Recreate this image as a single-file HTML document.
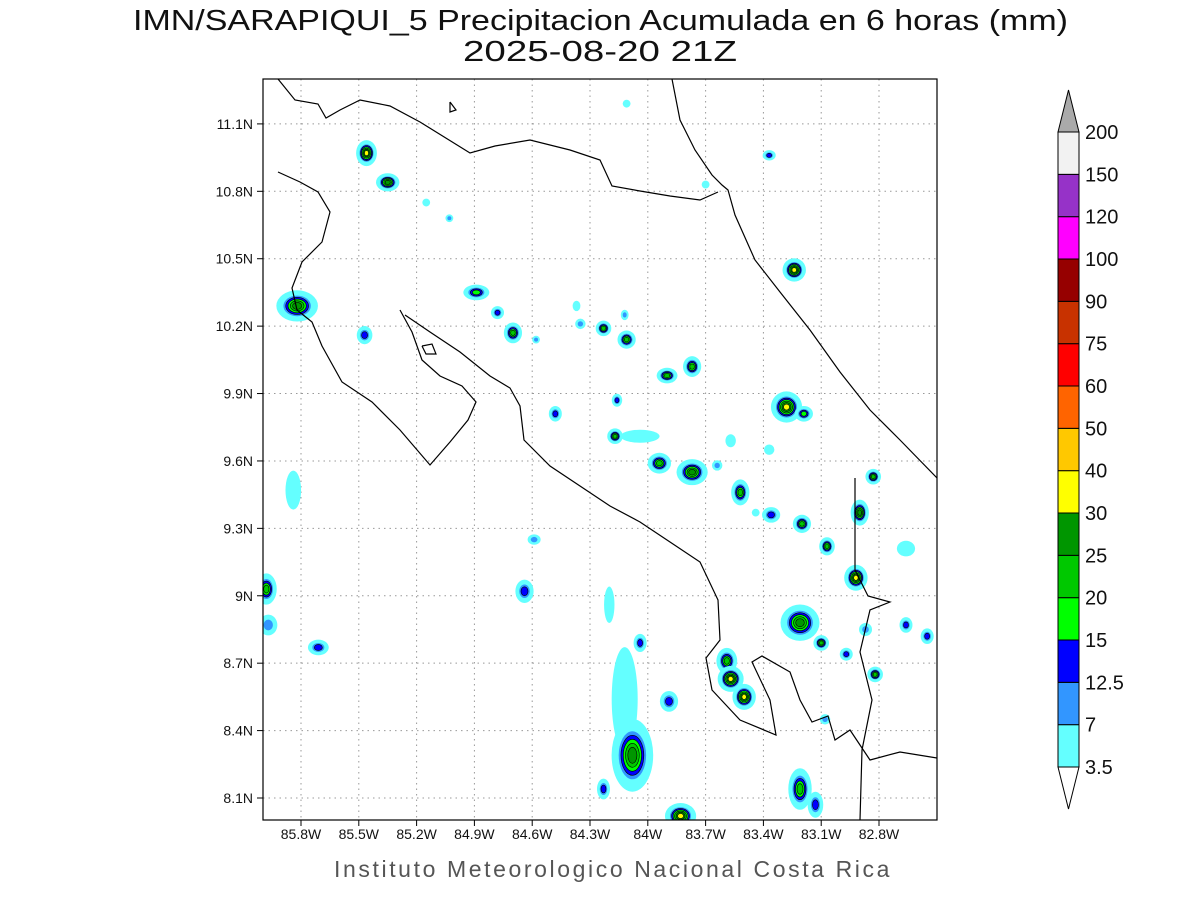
<!DOCTYPE html>
<html><head><meta charset="utf-8"><style>
body{margin:0;background:#fff;width:1200px;height:900px;overflow:hidden;font-family:"Liberation Sans",sans-serif}
svg{display:block}
</style></head><body>
<svg id="chart" width="1200" height="900" viewBox="0 0 1200 900" xmlns="http://www.w3.org/2000/svg">
<text x="133" y="30" font-size="29" textLength="935" lengthAdjust="spacingAndGlyphs" fill="#111" font-family="Liberation Sans, sans-serif">IMN/SARAPIQUI_5 Precipitacion Acumulada en 6 horas (mm)</text>
<text x="463" y="61" font-size="29" textLength="274" lengthAdjust="spacingAndGlyphs" fill="#111" font-family="Liberation Sans, sans-serif">2025-08-20 21Z</text>
<defs><clipPath id="plotclip"><rect x="263" y="79" width="674" height="741"/></clipPath></defs>
<g id="grid"></g>
<g id="blobs" clip-path="url(#plotclip)"></g>
<g clip-path="url(#plotclip)" fill="none" stroke="#000" stroke-width="1.2">
<polyline points="278,79 295,100 318,104 326,118 340,110 360,100 390,106 420,122 470,153 495,146 530,140 570,150 600,160 612,186 640,191 670,196 700,200 718,192"/>
<polyline points="672,79 680,120 695,150 712,175 722,185 728,190 735,215 755,260 780,292 810,330 840,372 870,410 900,440 937,478"/>
<polyline points="278,172 300,182 318,192 330,212 322,242 302,262 292,288 297,310 312,322 322,346 342,382 372,402 400,430 430,465 450,442 468,420 476,402 462,386 440,376 422,360 412,332 400,310"/>
<polyline points="405,315 430,332 460,352 490,376 510,388 520,406 524,440 550,466 580,486 610,506 640,522 670,542 700,562 718,600 720,640 706,658 712,690 740,720 776,735 770,700 752,662 762,656 790,672 800,700 812,722 828,716 835,740 850,730 870,760 900,752 937,758"/>
<polyline points="855,478 855,570 868,596 890,602 870,610 860,652 872,700 862,750 860,820"/>
<polyline points="422,346 432,344 436,354 426,354 422,346"/>
<polyline points="450,102 456,110 450,112 450,102"/>
</g>
<rect x="263" y="79" width="674" height="741" fill="none" stroke="#000" stroke-width="1.2"/>
<g id="axes" font-size="14" fill="#111"></g>
<g id="cbar"></g>
<text x="613" y="877" font-size="23" text-anchor="middle" fill="#555" letter-spacing="2.6">Instituto Meteorologico Nacional Costa Rica</text>
</svg>
<script>
const lonTicks=[85.8,85.5,85.2,84.9,84.6,84.3,84.0,83.7,83.4,83.1,82.8];
const lonLabels=["85.8W","85.5W","85.2W","84.9W","84.6W","84.3W","84W","83.7W","83.4W","83.1W","82.8W"];
const latTicks=[8.1,8.4,8.7,9.0,9.3,9.6,9.9,10.2,10.5,10.8,11.1];
const latLabels=["8.1N","8.4N","8.7N","9N","9.3N","9.6N","9.9N","10.2N","10.5N","10.8N","11.1N"];
const blobLon=[85.46,85.35,85.82,85.47,84.89,84.78,84.70,84.58,84.37,84.35,84.23,84.12,84.11,83.90,83.77,84.48,84.16,84.17,83.94,83.77,83.52,83.36,83.20,83.28,83.19,83.24,83.07,82.90,82.83,82.92,83.21,83.10,82.97,82.82,82.66,82.66,82.55,85.98,85.97,85.71,85.84,84.64,84.59,84.04,84.20,83.59,83.57,83.50,83.89,84.12,84.08,84.23,83.83,83.21,83.13,83.57,83.64,83.44,83.37,85.15,85.03,84.11,83.37,83.70,84.04,83.08,82.87];
const blobLat=[10.97,10.84,10.29,10.16,10.35,10.26,10.17,10.14,10.29,10.21,10.19,10.25,10.14,9.98,10.02,9.81,9.87,9.71,9.59,9.55,9.46,9.36,9.32,9.84,9.81,10.45,9.22,9.37,9.53,9.08,8.88,8.79,8.74,8.65,9.21,8.87,8.82,9.03,8.87,8.77,9.47,9.02,9.25,8.79,8.96,8.71,8.63,8.55,8.53,8.54,8.29,8.14,8.02,8.14,8.07,9.69,9.58,9.37,9.65,10.75,10.68,11.19,10.96,10.83,9.71,8.45,8.85];
const blobLevel=[7,6,6,3,4,3,5,2,1,2,5,2,5,5,5,3,3,5,5,6,5,3,5,7,4,7,5,6,5,7,6,5,3,5,1,3,3,5,2,3,1,3,2,3,1,5,7,7,3,1,6,3,7,5,3,1,2,1,1,1,2,1,3,1,1,2,2];
const blobRx=[8,9,16,6,10,5,7,3,3,4,6,3,7,8,7,5,4,6,9,12,7,7,7,12,7,9,6,7,6,9,15,6,5,6,7,5,5,8,7,8,6,7,5,5,4,8,10,9,7,10,16,5,12,9,6,4,4,3,4,3,3,3,5,3,15,4,5];
const blobRy=[10,7,12,7,6,5,8,3,4,4,6,4,7,6,8,6,5,6,8,10,10,6,7,12,6,9,7,10,6,10,14,6,5,6,6,6,6,12,8,6,15,9,4,7,14,10,10,10,8,40,28,8,10,16,10,5,4,3,4,3,3,3,4,3,5,4,5];
const levelColors=["#64ffff","#3296ff","#0000ff","#00ff00","#00c800","#009600","#ffff00"];
const cbColors=["#64ffff","#3296ff","#0000ff","#00ff00","#00c800","#009600","#ffff00","#ffc800","#ff6400","#ff0000","#c83200","#960000","#ff00ff","#9632c8","#f2f2f2"];
const cbLabels=["3.5","7","12.5","15","20","25","30","40","50","60","75","90","100","120","150","200"];
const NS="http://www.w3.org/2000/svg";
const xS=lon=>301+(85.8-lon)*192.67;
const yS=lat=>798-(lat-8.1)*224.7;
function mk(t,a,p){const e=document.createElementNS(NS,t);for(const k in a)e.setAttribute(k,a[k]);p.appendChild(e);return e;}
const grid=document.getElementById('grid'),axes=document.getElementById('axes');
lonTicks.forEach((v,i)=>{const x=xS(v);
 const l=mk('line',{x1:x,x2:x,y1:79,y2:820,stroke:'#999','stroke-dasharray':'1.5,4'},grid);
 
 
 mk('line',{x1:x,x2:x,y1:820,y2:826,stroke:'#000'},axes);
 const t=mk('text',{x:x,y:839,'text-anchor':'middle'},axes);t.textContent=lonLabels[i];
 
 });
latTicks.forEach((v,i)=>{const y=yS(v);
 const l=mk('line',{x1:263,x2:937,y1:y,y2:y,stroke:'#999','stroke-dasharray':'1.5,4'},grid);
 
 
 mk('line',{x1:257,x2:263,y1:y,y2:y,stroke:'#000'},axes);
 const t=mk('text',{x:253,y:y+5,'text-anchor':'end'},axes);t.textContent=latLabels[i];
 
 });
const bg=document.getElementById('blobs');
blobLon.forEach((lon,i)=>{const L=blobLevel[i],cx=xS(lon),cy=yS(blobLat[i]);
 const g=mk('g',{},bg);
 
 
 for(let k=1;k<=L;k++){const f=(k===1?1.3:1)*(L-k+2)/(L+1);
  mk('ellipse',{cx:cx,cy:cy,rx:blobRx[i]*f,ry:blobRy[i]*f,fill:levelColors[k-1],stroke:k>=3?'#000':'none','stroke-width':0.6},g);}});
const cb=document.getElementById('cbar');


const cbTop=132,cbBot=767,cbH=(cbBot-cbTop)/cbColors.length;
cbColors.forEach((c,i)=>{const y=cbBot-(i+1)*cbH;const r=mk('rect',{x:1058,y:y,width:21,height:cbH,fill:c,stroke:'#000','stroke-width':1},cb);
 
 });
mk('polygon',{points:'1058,132 1079,132 1068.5,90',fill:'#aaa',stroke:'#000'},cb);
mk('polygon',{points:'1058,767 1079,767 1068.5,809',fill:'#fff',stroke:'#000'},cb);
cbLabels.forEach((s,i)=>{const t=mk('text',{x:1085,y:cbBot-i*cbH+7,'font-size':20,fill:'#111'},cb);t.textContent=s;
 
 });
</script>
</body></html>
